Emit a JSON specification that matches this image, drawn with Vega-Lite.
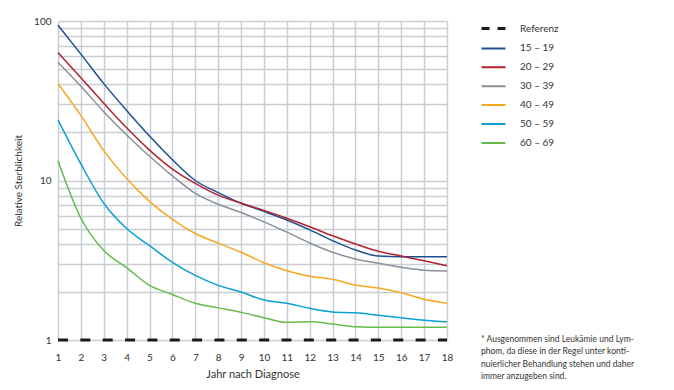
{
  "$schema": "https://vega.github.io/schema/vega-lite/v6.json",
  "width": 389,
  "height": 319,
  "autosize": {"type": "none"},
  "padding": {"left": 58, "top": 21, "right": 227, "bottom": 50},
  "background": "white",
  "config": {
    "view": {"stroke": null},
    "font": "Lato",
    "axis": {"labelFont": "Lato", "titleFont": "Lato", "labelColor": "#333", "titleColor": "#333", "titleFontWeight": "normal", "gridColor": "#c6cdd5", "gridWidth": 1.5, "gridOpacity": 1, "ticks": false, "domain": false}
  },
  "title": {
    "text": ["* Ausgenommen sind Leukämie und Lym-", "\u2002\u2009phom, da diese in der Regel unter konti-", "\u2002\u2009nuierlicher Behandlung stehen und daher", "\u2002\u2009immer anzugeben sind."],
    "orient": "bottom",
    "anchor": "start",
    "frame": "group",
    "align": "left",
    "baseline": "top",
    "dx": 423,
    "dy": -48,
    "font": "Lato",
    "fontSize": 8.5,
    "fontWeight": "normal",
    "color": "#333",
    "lineHeight": 12.3
  },
  "data": {
    "values": [
      {"group": "Referenz", "year": 1, "value": 1}, {"group": "Referenz", "year": 18, "value": 1},
      {"group": "15 – 19", "year": 1, "value": 94}, {"group": "15 – 19", "year": 2, "value": 62}, {"group": "15 – 19", "year": 3, "value": 40.5}, {"group": "15 – 19", "year": 4, "value": 27.5}, {"group": "15 – 19", "year": 5, "value": 19}, {"group": "15 – 19", "year": 6, "value": 13.5}, {"group": "15 – 19", "year": 7, "value": 10}, {"group": "15 – 19", "year": 8, "value": 8.4}, {"group": "15 – 19", "year": 9, "value": 7.2}, {"group": "15 – 19", "year": 10, "value": 6.4}, {"group": "15 – 19", "year": 11, "value": 5.65}, {"group": "15 – 19", "year": 12, "value": 4.9}, {"group": "15 – 19", "year": 13, "value": 4.2}, {"group": "15 – 19", "year": 14, "value": 3.67}, {"group": "15 – 19", "year": 15, "value": 3.36}, {"group": "15 – 19", "year": 16, "value": 3.33}, {"group": "15 – 19", "year": 17, "value": 3.33}, {"group": "15 – 19", "year": 18, "value": 3.33},
      {"group": "20 – 29", "year": 1, "value": 63.5}, {"group": "20 – 29", "year": 2, "value": 44}, {"group": "20 – 29", "year": 3, "value": 30.5}, {"group": "20 – 29", "year": 4, "value": 21.4}, {"group": "20 – 29", "year": 5, "value": 15.5}, {"group": "20 – 29", "year": 6, "value": 11.8}, {"group": "20 – 29", "year": 7, "value": 9.6}, {"group": "20 – 29", "year": 8, "value": 8.1}, {"group": "20 – 29", "year": 9, "value": 7.2}, {"group": "20 – 29", "year": 10, "value": 6.5}, {"group": "20 – 29", "year": 11, "value": 5.8}, {"group": "20 – 29", "year": 12, "value": 5.13}, {"group": "20 – 29", "year": 13, "value": 4.5}, {"group": "20 – 29", "year": 14, "value": 4.0}, {"group": "20 – 29", "year": 15, "value": 3.6}, {"group": "20 – 29", "year": 16, "value": 3.36}, {"group": "20 – 29", "year": 17, "value": 3.14}, {"group": "20 – 29", "year": 18, "value": 2.92},
      {"group": "30 – 39", "year": 1, "value": 55}, {"group": "30 – 39", "year": 2, "value": 39}, {"group": "30 – 39", "year": 3, "value": 27}, {"group": "30 – 39", "year": 4, "value": 19.3}, {"group": "30 – 39", "year": 5, "value": 14.2}, {"group": "30 – 39", "year": 6, "value": 10.7}, {"group": "30 – 39", "year": 7, "value": 8.3}, {"group": "30 – 39", "year": 8, "value": 7.1}, {"group": "30 – 39", "year": 9, "value": 6.3}, {"group": "30 – 39", "year": 10, "value": 5.5}, {"group": "30 – 39", "year": 11, "value": 4.75}, {"group": "30 – 39", "year": 12, "value": 4.06}, {"group": "30 – 39", "year": 13, "value": 3.55}, {"group": "30 – 39", "year": 14, "value": 3.22}, {"group": "30 – 39", "year": 15, "value": 3.03}, {"group": "30 – 39", "year": 16, "value": 2.86}, {"group": "30 – 39", "year": 17, "value": 2.74}, {"group": "30 – 39", "year": 18, "value": 2.71},
      {"group": "40 – 49", "year": 1, "value": 40.5}, {"group": "40 – 49", "year": 2, "value": 25.6}, {"group": "40 – 49", "year": 3, "value": 15.4}, {"group": "40 – 49", "year": 4, "value": 10.3}, {"group": "40 – 49", "year": 5, "value": 7.4}, {"group": "40 – 49", "year": 6, "value": 5.7}, {"group": "40 – 49", "year": 7, "value": 4.65}, {"group": "40 – 49", "year": 8, "value": 4.05}, {"group": "40 – 49", "year": 9, "value": 3.55}, {"group": "40 – 49", "year": 10, "value": 3.05}, {"group": "40 – 49", "year": 11, "value": 2.72}, {"group": "40 – 49", "year": 12, "value": 2.51}, {"group": "40 – 49", "year": 13, "value": 2.4}, {"group": "40 – 49", "year": 14, "value": 2.21}, {"group": "40 – 49", "year": 15, "value": 2.12}, {"group": "40 – 49", "year": 16, "value": 1.98}, {"group": "40 – 49", "year": 17, "value": 1.8}, {"group": "40 – 49", "year": 18, "value": 1.7},
      {"group": "50 – 59", "year": 1, "value": 24}, {"group": "50 – 59", "year": 2, "value": 12.7}, {"group": "50 – 59", "year": 3, "value": 7.2}, {"group": "50 – 59", "year": 4, "value": 5.0}, {"group": "50 – 59", "year": 5, "value": 3.9}, {"group": "50 – 59", "year": 6, "value": 3.07}, {"group": "50 – 59", "year": 7, "value": 2.54}, {"group": "50 – 59", "year": 8, "value": 2.2}, {"group": "50 – 59", "year": 9, "value": 2.0}, {"group": "50 – 59", "year": 10, "value": 1.78}, {"group": "50 – 59", "year": 11, "value": 1.7}, {"group": "50 – 59", "year": 12, "value": 1.58}, {"group": "50 – 59", "year": 13, "value": 1.5}, {"group": "50 – 59", "year": 14, "value": 1.48}, {"group": "50 – 59", "year": 15, "value": 1.43}, {"group": "50 – 59", "year": 16, "value": 1.38}, {"group": "50 – 59", "year": 17, "value": 1.33}, {"group": "50 – 59", "year": 18, "value": 1.3},
      {"group": "60 – 69", "year": 1, "value": 13.3}, {"group": "60 – 69", "year": 2, "value": 5.8}, {"group": "60 – 69", "year": 3, "value": 3.64}, {"group": "60 – 69", "year": 4, "value": 2.84}, {"group": "60 – 69", "year": 5, "value": 2.2}, {"group": "60 – 69", "year": 6, "value": 1.93}, {"group": "60 – 69", "year": 7, "value": 1.7}, {"group": "60 – 69", "year": 8, "value": 1.59}, {"group": "60 – 69", "year": 9, "value": 1.49}, {"group": "60 – 69", "year": 10, "value": 1.38}, {"group": "60 – 69", "year": 11, "value": 1.29}, {"group": "60 – 69", "year": 12, "value": 1.3}, {"group": "60 – 69", "year": 13, "value": 1.26}, {"group": "60 – 69", "year": 14, "value": 1.21}, {"group": "60 – 69", "year": 15, "value": 1.2}, {"group": "60 – 69", "year": 16, "value": 1.2}, {"group": "60 – 69", "year": 17, "value": 1.2}, {"group": "60 – 69", "year": 18, "value": 1.2}
    ]
  },
  "encoding": {
    "x": {
      "field": "year", "type": "quantitative",
      "scale": {"domain": [1, 18], "nice": false, "zero": false},
      "axis": {"values": [1,2,3,4,5,6,7,8,9,10,11,12,13,14,15,16,17,18], "grid": true, "labelFontSize": 10, "labelPadding": 12, "labelFlush": false, "title": "Jahr nach Diagnose", "titleFontSize": 11, "titlePadding": 6}
    },
    "y": {
      "field": "value", "type": "quantitative",
      "scale": {"type": "log", "domain": [1, 100], "nice": false},
      "axis": {"values": [1,2,3,4,5,6,7,8,9,10,20,30,40,50,60,70,80,90,100], "grid": true, "labelExpr": "datum.value == 1 || datum.value == 10 || datum.value == 100 ? datum.value : ''", "labelFontSize": 10, "labelPadding": 7, "labelFlush": false, "title": "Relative Sterblichkeit", "titleFontSize": 10, "titlePadding": 10}
    },
    "color": {
      "field": "group", "type": "nominal",
      "scale": {"domain": ["Referenz", "15 – 19", "20 – 29", "30 – 39", "40 – 49", "50 – 59", "60 – 69"], "range": ["#1a1a1a", "#1d4f8f", "#b3232f", "#8a9096", "#f7a823", "#0aa0d0", "#65bb4c"]},
      "legend": {
        "title": null, "orient": "none", "legendX": 430.5, "legendY": 2.5,
        "symbolType": "M-1.41,0H1.41", "symbolSize": 289, "symbolStrokeWidth": 2,
        "labelOffset": 21.5, "rowPadding": 8.9, "labelFont": "Lato", "labelFontSize": 10, "labelColor": "#333",
        "encode": {"symbols": {"update": {
          "strokeDash": {"signal": "datum.value === 'Referenz' ? [8, 8] : [1, 0]"},
          "strokeWidth": {"signal": "datum.value === 'Referenz' ? 3 : 2"}
        }}}
      }
    }
  },
  "layer": [
    {
      "transform": [{"filter": "datum.group !== 'Referenz'"}],
      "mark": {"type": "line", "interpolate": "monotone", "strokeWidth": 1.5}
    },
    {
      "transform": [{"filter": "datum.group === 'Referenz'"}],
      "mark": {"type": "line", "strokeWidth": 3, "strokeDash": [10, 12.35], "strokeCap": "butt"}
    }
  ]
}
